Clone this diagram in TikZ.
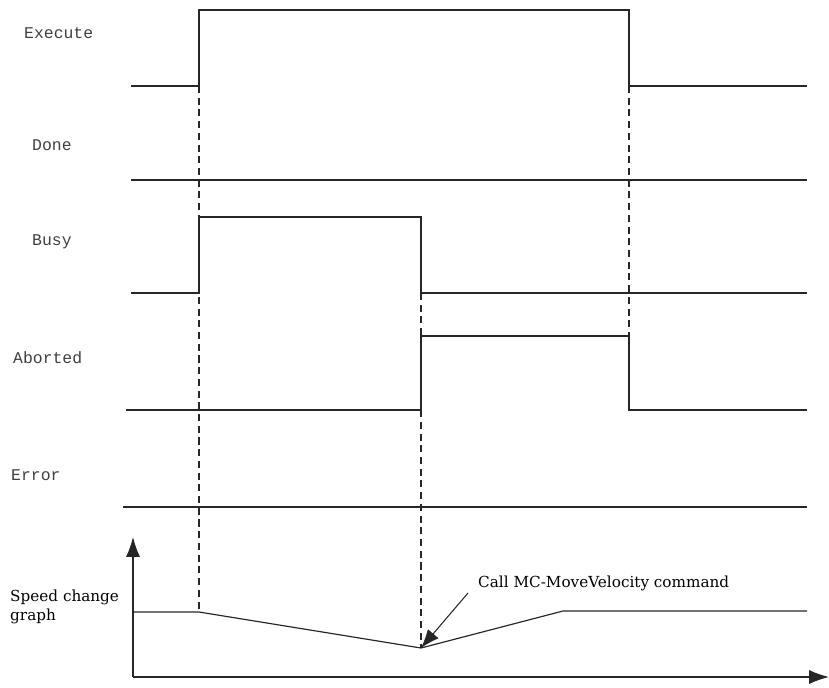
\documentclass[tikz,border=0pt]{standalone}
\usepackage{fontspec}
\setmainfont{DejaVu Serif}
\setmonofont{Liberation Mono}
\usetikzlibrary{arrows.meta}

\begin{document}
\begin{tikzpicture}[
    x=0.03cm, y=-0.03cm,
    signal/.style={line width=1pt, black!85},
    guide/.style={line width=0.9pt, black!85, dash pattern=on 6pt off 4pt},
    siglabel/.style={anchor=west, inner sep=0pt, font=\ttfamily\fontsize{14}{16}\selectfont, text=black!75},
    axis/.style={line width=1pt, black!85, -{Latex[length=17pt,width=12pt]}},
    note/.style={anchor=west, inner sep=0pt, font=\fontsize{13}{16}\selectfont}
]
\useasboundingbox (0,0) rectangle (829,687);

% signal names
\node[siglabel] (exelbl) at (24,33) {Execute};
\node[siglabel] (donelbl) at (32,145) {Done};
\node[siglabel] (busylbl) at (32,242) {Busy};
\node[siglabel] (abortlbl) at (13,358) {Aborted};
\node[siglabel] (errlbl) at (11,475) {Error};
\node[note, align=left] (speedlbl) at (10,607) {Speed change\\graph};

% signal traces
\draw[signal] (131,86) -- (199,86) -- (199,10) -- (629,10) -- (629,86) -- (807,86); % Execute
\draw[signal] (131,180) -- (807,180); % Done
\draw[signal] (131,293) -- (199,293) -- (199,217) -- (421,217) -- (421,293) -- (807,293); % Busy
\draw[signal] (126,410) -- (421,410) -- (421,336) -- (629,336) -- (629,410) -- (807,410); % Aborted
\draw[signal] (123,507) -- (807,507); % Error

% speed graph
\coordinate (origin) at (133,677);
\coordinate (slow) at (421,648);
\draw[axis] (origin) -- (133,537);
\draw[axis] (origin) -- (829,677);
\draw[signal] (133,612) -- (199,612) -- (slow) -- (563,611) -- (807,611);

% guides
\draw[guide] (199,86) -- (199,612);
\draw[guide] (421,293) -- (slow);
\draw[guide] (629,86) -- (629,336);

% annotation
\node[note] (callnote) at (478,583) {Call MC-MoveVelocity command};
\coordinate (calltail) at (468,593);
\draw[line width=0.9pt, black!85, -{Latex[length=16pt,width=12pt]}] (calltail) -- (slow);
\end{tikzpicture}
\end{document}
